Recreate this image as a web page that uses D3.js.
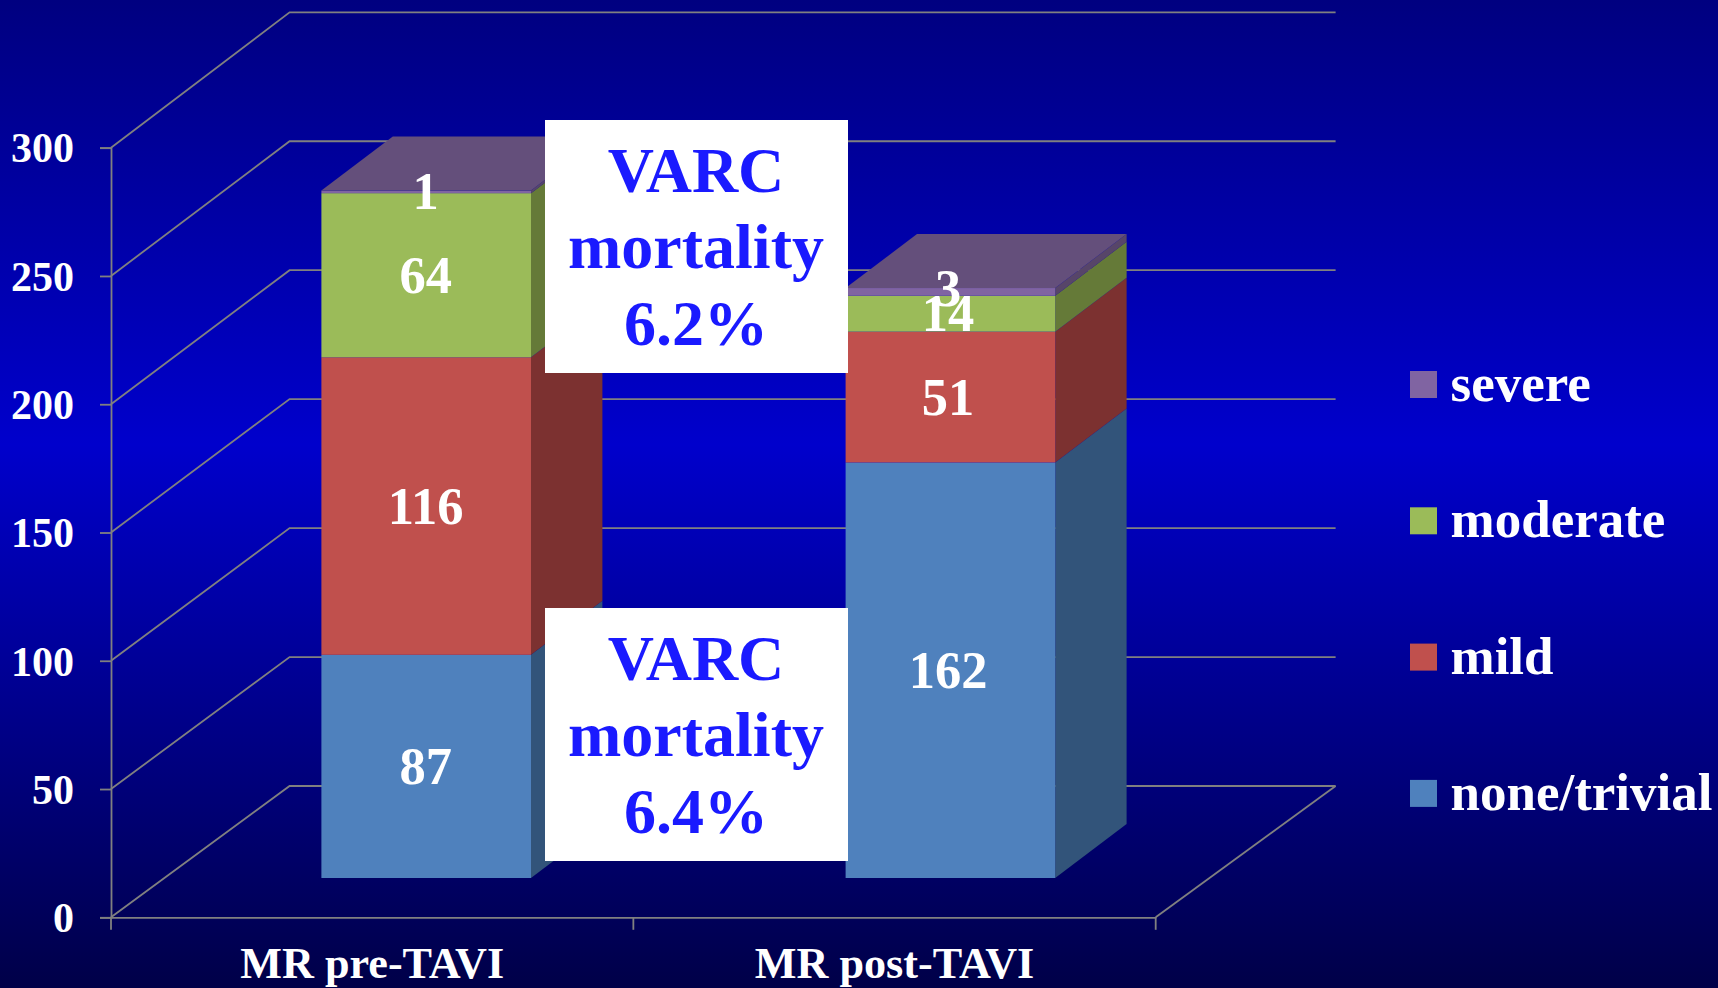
<!DOCTYPE html>
<html><head><meta charset="utf-8">
<script src="https://cdn.jsdelivr.net/npm/d3@7/dist/d3.min.js"></script>
<style>html,body{margin:0;padding:0;background:#000080;overflow:hidden}svg{display:block}text{font-family:"Liberation Serif","Times New Roman",serif;font-weight:700}</style>
</head><body><svg id="c" width="1718" height="988"></svg>
<script>
const categories = ["MR pre-TAVI", "MR post-TAVI"];
const seriesNames = ["none/trivial", "mild", "moderate", "severe"];
const noneTrivial = [87, 162];
const mild = [116, 51];
const moderate = [64, 14];
const severe = [1, 3];
const yTicks = [0, 50, 100, 150, 200, 250, 300];
const boxLines = [["VARC", "mortality", "6.2%"], ["VARC", "mortality", "6.4%"]];
const seriesValues = [noneTrivial, mild, moderate, severe];
const frontColors = ["#4f81bd", "#c0504d", "#9bbb59", "#8064a2"];
const sideColors = ["#32547a", "#7c3130", "#657a38", "#574569"];
const topColors = ["#4f81bd", "#c0504d", "#9bbb59", "#644f7b"];

const svg = d3.select("#c");
const defs = svg.append("defs");
const grad = defs.append("linearGradient").attr("id","bg").attr("x1",0).attr("x2",0).attr("y1",0).attr("y2",1);
[[0,"#000080"],[0.45,"#0000cc"],[1,"#000048"]].forEach(s=>grad.append("stop").attr("offset",s[0]).attr("stop-color",s[1]));
svg.append("rect").attr("width",1718).attr("height",988).attr("fill","url(#bg)");

const GRID = "#808080";
const yFront = d3.scaleLinear().domain([0,300]).range([917.3,147.7]);
const yBack = d3.scaleLinear().domain([0,300]).range([786,12.3]);
const yBar = d3.scaleLinear().domain([0,300]).range([878,108.5]);
const xBand = d3.scaleBand().domain(categories).range([111,1155.7]);
const xBar = d3.scalePoint().domain(categories).range([426.2,950.4]);
const barW = 209.6, depthX = 71.4, depthY = 54;
const backDX = 178.6;

// walls
const grid = svg.append("g").attr("fill","none").attr("stroke",GRID).attr("stroke-width",1.8);
grid.selectAll("path.w").data(yTicks).join("path").attr("class","w")
  .attr("d",t=>d3.line()([[111,yFront(t)],[111+backDX,yBack(t)],[1335.6,yBack(t)]]));
grid.append("path").attr("d",d3.line()([[1155.7,yFront(0)],[1335.6,yBack(0)]]));

// axes
const yAxis = d3.axisLeft(yFront).tickValues(yTicks).tickSize(11).tickPadding(26);
const gy = svg.append("g").attr("transform","translate(111,0)").call(yAxis);
gy.selectAll("line,path").attr("stroke",GRID).attr("stroke-width",1.8);
gy.selectAll("text").attr("fill","#fff").attr("font-size",42).attr("dy","0.34em");
const xAxis = d3.axisBottom(xBand).tickSize(0).tickPadding(29.5);
const gx = svg.append("g").attr("transform",`translate(0,${yFront(0)})`).call(xAxis);
gx.selectAll("path").attr("stroke",GRID).attr("stroke-width",1.8);
gx.selectAll("text").attr("fill","#fff").attr("font-size",44.2);
gx.selectAll("line.t").data(d3.range(categories.length+1)).join("line").attr("class","t")
  .attr("x1",i=>xBand.range()[0]+i*xBand.step()).attr("x2",i=>xBand.range()[0]+i*xBand.step())
  .attr("y1",0).attr("y2",12.5).attr("stroke",GRID).attr("stroke-width",1.8);

// stacked bars
const line = d3.line();
const labelNudge = {"3":-3.5};
const barsG = svg.append("g");
categories.forEach((cat,ci)=>{
  const g = barsG.append("g");
  const cx = xBar(cat), l = cx-barW/2, r = cx+barW/2;
  let cum = 0;
  seriesValues.forEach((vals,si)=>{
    const v = vals[ci], y0 = yBar(cum), y1 = yBar(cum+v);
    cum += v;
    g.append("path").attr("fill",sideColors[si])
      .attr("d",line([[r,y0],[r+depthX,y0-depthY],[r+depthX,y1-depthY],[r,y1]])+"Z");
    g.append("rect").attr("x",l).attr("y",y1).attr("width",barW).attr("height",y0-y1).attr("fill",frontColors[si]);
    if(si===seriesValues.length-1){
      g.append("path").attr("fill",topColors[si])
        .attr("d",line([[l,y1],[l+depthX,y1-depthY],[r+depthX,y1-depthY],[r,y1]])+"Z");
    }
  });
  cum = 0;
  seriesValues.forEach(vals=>{
    const v = vals[ci], mid = yBar(cum+v/2); cum += v;
    g.append("text").attr("x",xBand(cat)+xBand.bandwidth()/2+53.5).attr("y",mid+17.5+(labelNudge[v]||0))
      .attr("text-anchor","middle").attr("fill","#fff").attr("font-size",52.5).text(v);
  });
});

// legend
const legY = d3.scalePoint().domain(seriesNames).range([793.4,384.5]);
const leg = svg.append("g");
seriesNames.forEach((n,i)=>{
  leg.append("rect").attr("x",1410).attr("y",legY(n)-13.5).attr("width",27).attr("height",27).attr("fill",frontColors[i]);
  leg.append("text").attr("x",1450.5).attr("y",legY(n)+16.5).attr("fill","#fff").attr("font-size",53).text(n);
});

// boxes
const boxTops = [120,608];
const lineBase = [71.7,147.7,225];
boxLines.forEach((lines,b)=>{
  const g = svg.append("g");
  g.append("rect").attr("x",545).attr("y",boxTops[b]).attr("width",303).attr("height",253).attr("fill","#fff");
  lines.forEach((t,i)=>g.append("text").attr("x",696).attr("y",boxTops[b]+lineBase[i])
    .attr("text-anchor","middle").attr("fill","#1a1aff").attr("font-size",64).text(t));
});
</script></body></html>
